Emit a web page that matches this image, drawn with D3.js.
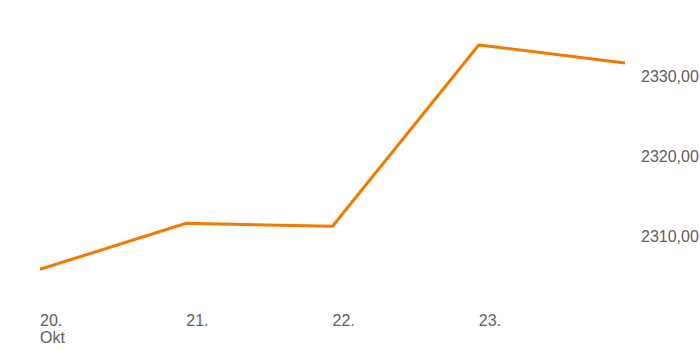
<!DOCTYPE html>
<html><head><meta charset="utf-8">
<script src="https://cdn.jsdelivr.net/npm/d3@7"></script>
<style>body{margin:0;background:#fff}svg{display:block}</style>
</head><body>
<svg id="c" width="700" height="350"></svg>
<script>
const dates = ["2023-10-20","2023-10-21","2023-10-22","2023-10-23","2023-10-24"];
const values = [2305.9, 2311.65, 2311.28, 2333.94, 2331.69];
const xTickLabels = [["20.","Okt"],["21."],["22."],["23."]];
const yTicks = [2310, 2320, 2330];

const parse = d3.timeParse("%Y-%m-%d");
const data = dates.map((d,i)=>({date:parse(d), value:values[i]}));
const svg = d3.select("#c");
const x = d3.scaleTime().domain([data[0].date, data[data.length-1].date]).range([40,625]);
const y = d3.scaleLinear().domain([2310,2330]).range([236.5,76.5]);

const font = "Liberation Sans, Arial, sans-serif";
const gx = svg.append("g");
data.slice(0,4).forEach((d,i)=>{
  const t = gx.append("text").attr("x", x(d.date)).attr("y", 326)
    .attr("font-family", font).attr("font-size", 16).attr("fill", "#606060");
  xTickLabels[i].forEach((s,j)=>{
    t.append("tspan").attr("x", x(d.date)).attr("dy", j===0?0:17).text(s);
  });
});

const fmt = v => d3.format(".2f")(v).replace(".", ",");
svg.append("g").selectAll("text").data(yTicks).join("text")
  .attr("x", 641).attr("y", d=>y(d)).attr("dy","0.36em")
  .attr("font-family", font).attr("font-size", 16).attr("fill", "#606060")
  .text(fmt);

svg.append("path").datum(data)
  .attr("fill","none").attr("stroke","#f27a00").attr("stroke-width",3)
  .attr("stroke-linejoin","round")
  .attr("d", d3.line().x(d=>x(d.date)).y(d=>y(d.value)));
</script>
</body></html>
